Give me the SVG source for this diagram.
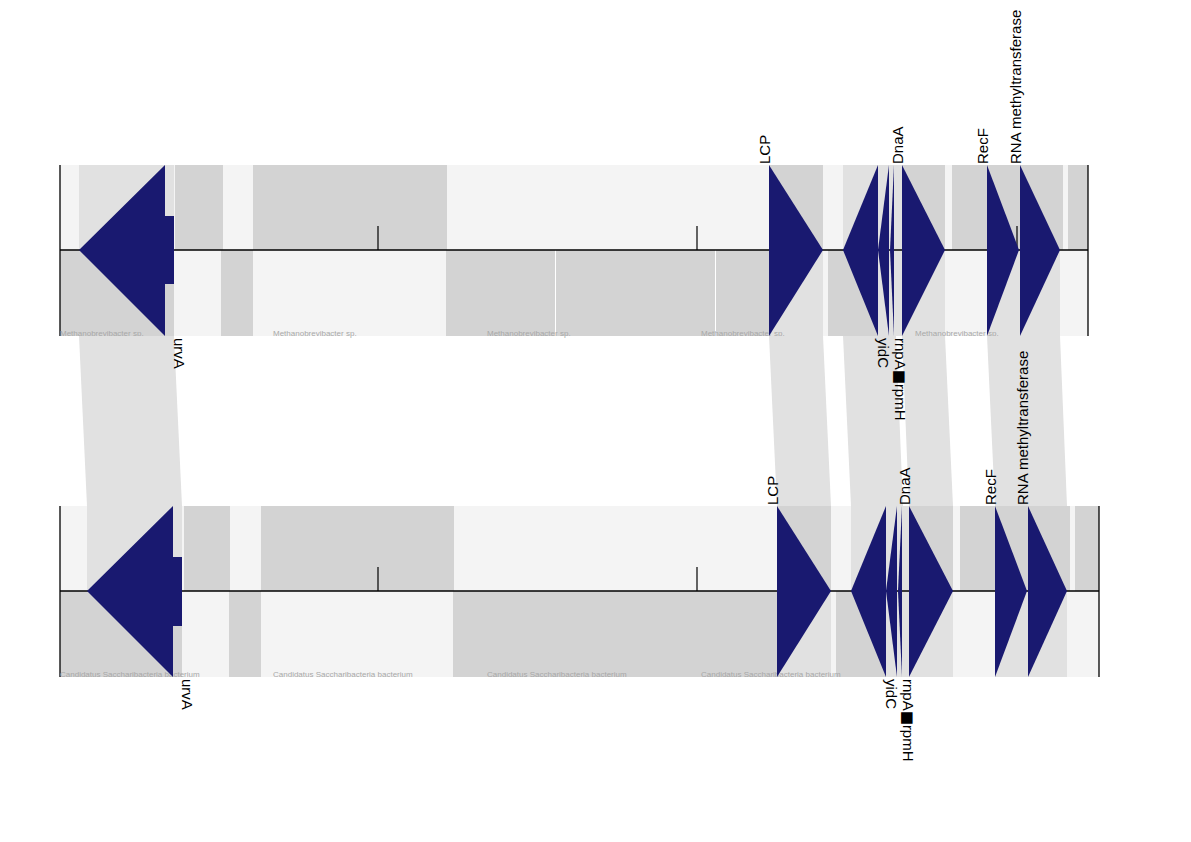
<svg xmlns="http://www.w3.org/2000/svg" width="1191" height="842" viewBox="0 0 1191 842">
<style>
.bg{fill:#f4f4f4}
.dk{fill:#d3d3d3}
.lt{fill:#e1e1e1}
.band{fill:#e1e1e1}
.gene{fill:#191970}
.axis{stroke:#000;stroke-width:1.3;fill:none}
.tick{stroke:#000;stroke-width:1.2}
.sep{stroke:#ffffff;stroke-width:1}
.gl{font-family:"Liberation Sans",Arial,sans-serif;font-size:15px;fill:#000}
.sq{font-family:"DejaVu Sans",sans-serif}
.org{font-family:"Liberation Sans",Arial,sans-serif;font-size:8px;fill:#a8a8a8}
</style>
<rect width="1191" height="842" fill="#ffffff"/>

<g id="track1">
<rect class="bg" x="60" y="165" width="1028" height="171"/>
<rect class="lt" x="79" y="165" width="95" height="85"/>
<rect class="dk" x="175" y="165" width="48" height="85"/>
<rect class="dk" x="253" y="165" width="194" height="85"/>
<rect class="dk" x="769" y="165" width="54" height="85"/>
<rect class="lt" x="843" y="165" width="59" height="85"/>
<rect class="dk" x="902" y="165" width="43" height="85"/>
<rect class="dk" x="952" y="165" width="111" height="85"/>
<rect class="dk" x="1068" y="165" width="20" height="85"/>
<rect class="dk" x="60" y="250" width="114" height="86"/>
<rect class="dk" x="221" y="250" width="32" height="86"/>
<rect class="dk" x="446" y="250" width="323" height="86"/>
<line class="sep" x1="555.5" y1="250" x2="555.5" y2="336"/>
<line class="sep" x1="715.5" y1="250" x2="715.5" y2="336"/>
<rect class="lt" x="769" y="250" width="54" height="86"/>
<rect class="dk" x="828" y="250" width="50" height="86"/>
<rect class="lt" x="878" y="250" width="67" height="86"/>
<rect class="lt" x="987" y="250" width="73" height="86"/>
<line class="tick" x1="378" y1="226" x2="378" y2="250"/>
<line class="tick" x1="697" y1="226" x2="697" y2="250"/>
<line class="tick" x1="1017" y1="226" x2="1017" y2="250"/>
<line class="axis" x1="60" y1="250" x2="1088" y2="250"/>
<line class="axis" x1="60" y1="165" x2="60" y2="336"/>
<line class="axis" x1="1088" y1="165" x2="1088" y2="336"/>
<text class="org" x="60" y="336">Methanobrevibacter sp.</text>
<text class="org" x="273" y="336">Methanobrevibacter sp.</text>
<text class="org" x="487" y="336">Methanobrevibacter sp.</text>
<text class="org" x="701" y="336">Methanobrevibacter sp.</text>
<text class="org" x="915" y="336">Methanobrevibacter sp.</text>
</g>

<g id="track2">
<rect class="bg" x="60" y="506" width="1039" height="171"/>
<rect class="lt" x="87" y="506" width="95" height="85"/>
<rect class="dk" x="184" y="506" width="46" height="85"/>
<rect class="dk" x="261" y="506" width="193" height="85"/>
<rect class="dk" x="777" y="506" width="54" height="85"/>
<rect class="lt" x="851" y="506" width="58" height="85"/>
<rect class="dk" x="909" y="506" width="44" height="85"/>
<rect class="dk" x="960" y="506" width="110" height="85"/>
<rect class="dk" x="1075" y="506" width="24" height="85"/>
<rect class="dk" x="60" y="591" width="122" height="86"/>
<rect class="dk" x="229" y="591" width="32" height="86"/>
<rect class="dk" x="453" y="591" width="324" height="86"/>
<rect class="lt" x="777" y="591" width="54" height="86"/>
<rect class="dk" x="836" y="591" width="50" height="86"/>
<rect class="lt" x="886" y="591" width="67" height="86"/>
<rect class="lt" x="995" y="591" width="72" height="86"/>
<line class="tick" x1="378" y1="567" x2="378" y2="591"/>
<line class="tick" x1="697" y1="567" x2="697" y2="591"/>
<line class="tick" x1="1017" y1="567" x2="1017" y2="591"/>
<line class="axis" x1="60" y1="591" x2="1099" y2="591"/>
<line class="axis" x1="60" y1="506" x2="60" y2="677"/>
<line class="axis" x1="1099" y1="506" x2="1099" y2="677" stroke="#555"/>
<text class="org" x="60" y="677">Candidatus Saccharibacteria bacterium</text>
<text class="org" x="273" y="677">Candidatus Saccharibacteria bacterium</text>
<text class="org" x="487" y="677">Candidatus Saccharibacteria bacterium</text>
<text class="org" x="701" y="677">Candidatus Saccharibacteria bacterium</text>
</g>

<g id="connectors">
<polygon class="band" points="79,336 174,336 182,506 87,506"/>
<polygon class="band" points="769,336 823,336 831,506 777,506"/>
<polygon class="band" points="843,336 896,336 903,506 851,506"/>
<polygon class="band" points="902,336 945,336 953,506 909,506"/>
<polygon class="band" points="987,336 1060,336 1067,506 995,506"/>
</g>

<g id="t1-urvA"><polygon class="gene" points="79,250 165,165 165,216 174,216 174,284 165,284 165,336"/><text class="gl" transform="translate(174,338) rotate(90)">urvA</text></g>
<g id="t1-LCP"><polygon class="gene" points="769,165 823,250 769,336"/><text class="gl" transform="translate(770,164) rotate(-90)">LCP</text></g>
<g id="t1-yidC"><polygon class="gene" points="843,250 878,165 878,336"/><text class="gl" transform="translate(878,338) rotate(90)">yidC</text></g>
<g id="t1-rnpA"><polygon class="gene" points="878,250 889,165 889,336"/></g>
<g id="t1-rpmH"><polygon class="gene" points="890,250 894,165 894,336"/><text class="gl" transform="translate(895,338) rotate(90)">rnpA<tspan class="sq">■</tspan>rpmH</text></g>
<g id="t1-DnaA"><polygon class="gene" points="902,165 945,250 902,336"/><text class="gl" transform="translate(903,164) rotate(-90)">DnaA</text></g>
<g id="t1-RecF"><polygon class="gene" points="987,165 1019,250 987,336"/><text class="gl" transform="translate(988,164) rotate(-90)">RecF</text></g>
<g id="t1-RNAMT"><polygon class="gene" points="1020,165 1060,250 1020,336"/><text class="gl" transform="translate(1021,164) rotate(-90)">RNA methyltransferase</text></g>

<g id="t2-urvA"><polygon class="gene" points="87,591 173,506 173,557 182,557 182,626 173,626 173,677"/><text class="gl" transform="translate(182,679) rotate(90)">urvA</text></g>
<g id="t2-LCP"><polygon class="gene" points="777,506 831,591 777,677"/><text class="gl" transform="translate(778,505) rotate(-90)">LCP</text></g>
<g id="t2-yidC"><polygon class="gene" points="851,591 886,506 886,677"/><text class="gl" transform="translate(886,679) rotate(90)">yidC</text></g>
<g id="t2-rnpA"><polygon class="gene" points="886,591 897,506 897,677"/></g>
<g id="t2-rpmH"><polygon class="gene" points="898,591 902,506 902,677"/><text class="gl" transform="translate(903,679) rotate(90)">rnpA<tspan class="sq">■</tspan>rpmH</text></g>
<g id="t2-DnaA"><polygon class="gene" points="909,506 953,591 909,677"/><text class="gl" transform="translate(910,505) rotate(-90)">DnaA</text></g>
<g id="t2-RecF"><polygon class="gene" points="995,506 1027,591 995,677"/><text class="gl" transform="translate(996,505) rotate(-90)">RecF</text></g>
<g id="t2-RNAMT"><polygon class="gene" points="1028,506 1067,591 1028,677"/><text class="gl" transform="translate(1028,505) rotate(-90)">RNA methyltransferase</text></g>
</svg>
